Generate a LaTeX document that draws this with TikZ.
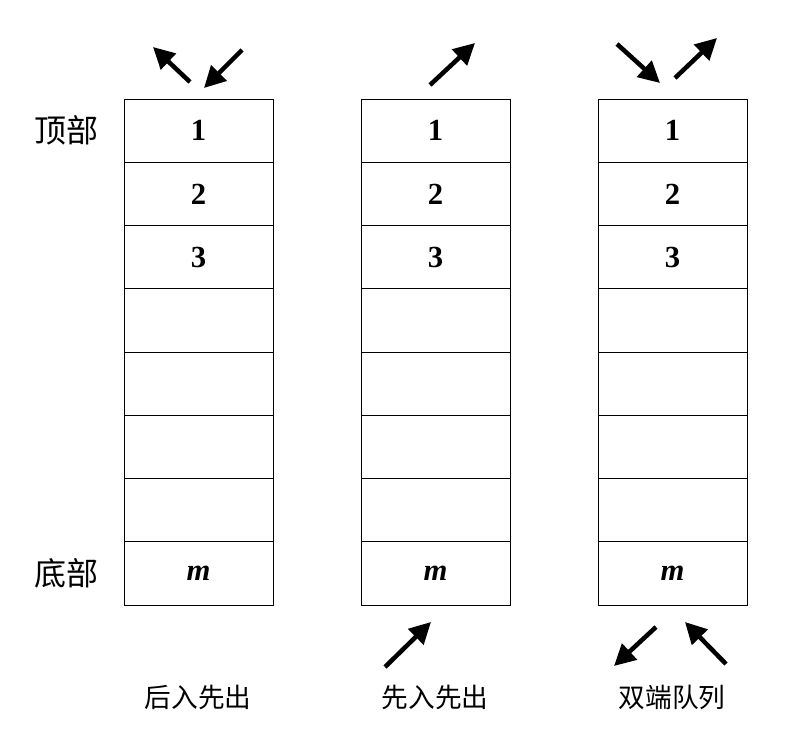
\documentclass[tikz,border=0pt]{standalone}
\usepackage{fontspec}
\setmainfont{Liberation Serif}
\newfontfamily\cjk{Noto Sans CJK SC}
\usetikzlibrary{arrows.meta}
\begin{document}
\begin{tikzpicture}[x=0.75pt,y=-0.75pt,
  cell/.style={draw,line width=0.6pt,minimum width=111.75pt,minimum height=47.4pt,inner sep=0,font=\fontsize{23}{25}\selectfont\bfseries},
  arr/.style={line width=3.4pt,-{Triangle[length=16pt,width=16pt]}},
  lab/.style={font=\cjk\fontsize{20}{22}\selectfont},
  side/.style={font=\cjk\fontsize{24}{26}\selectfont}]
\useasboundingbox (0,0) rectangle (804,749);
\foreach \c/\x in {a/198.5,b/435.5,c/672.5}{
  \foreach \i/\t in {1/1,2/2,3/3,4/,5/,6/,7/,8/{\itshape m}}{
    \node[cell] (\c\i) at (\x,{99+63.25*(\i-0.5)}) {\t};
  }
}
\node[side] (top) at (66,130) {顶部};
\node[side] (bot) at (66,573) {底部};
\node[lab] (la) at (198,697) {后入先出};
\node[lab] (lb) at (435,697) {先入先出};
\node[lab] (lc) at (672,697) {双端队列};
\coordinate (p1) at (190,82); \coordinate (q1) at (153,47);
\coordinate (p2) at (242,50); \coordinate (q2) at (204,88);
\coordinate (p3) at (430,85); \coordinate (q3) at (475,43);
\coordinate (p4) at (617,44); \coordinate (q4) at (660,83);
\coordinate (p5) at (675,78); \coordinate (q5) at (717,38);
\coordinate (p6) at (385,667); \coordinate (q6) at (431,622);
\coordinate (p7) at (656,627); \coordinate (q7) at (614,666);
\coordinate (p8) at (726,664); \coordinate (q8) at (685,622);
\foreach \k in {1,...,8} \draw[arr] (p\k) -- (q\k);
\end{tikzpicture}
\end{document}
